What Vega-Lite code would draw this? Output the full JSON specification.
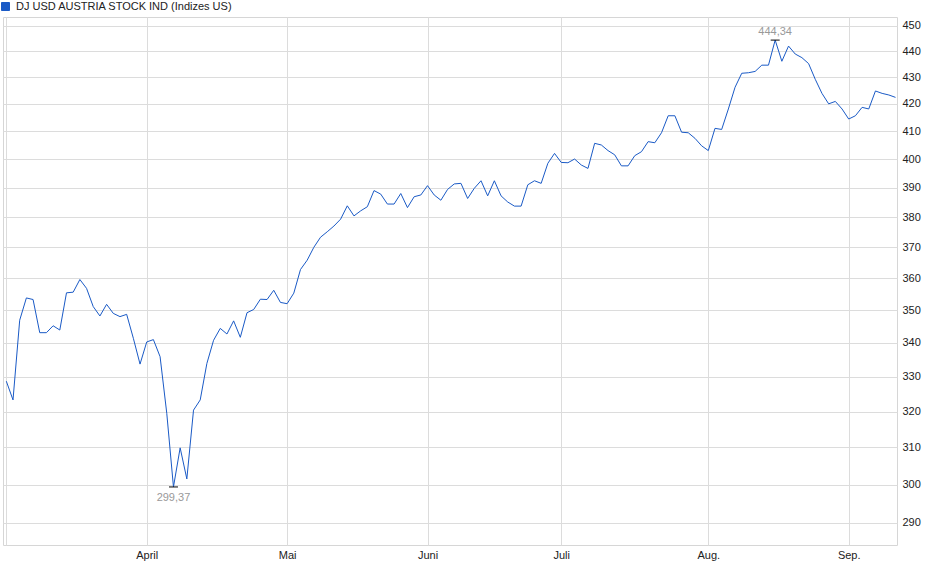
{
  "$schema": "https://vega.github.io/schema/vega-lite/v6.json",
  "autosize": {"type": "none"},
  "width": 894,
  "height": 528,
  "padding": {"left": 3, "top": 17, "right": 43, "bottom": 34},
  "background": "white",
  "config": {
    "font": "Liberation Sans",
    "view": {"stroke": "#d6d6d6", "strokeWidth": 1},
    "axis": {"gridColor": "#dcdcdc", "gridWidth": 1, "domain": false, "ticks": false, "title": null, "labelFont": "Liberation Sans", "labelFontSize": 11, "labelColor": "#222222"}
  },
  "datasets": {
    "prices": [
      {"date": "2025-03-03", "close": 328.7},
      {"date": "2025-03-04", "close": 323.3},
      {"date": "2025-03-05", "close": 346.9},
      {"date": "2025-03-06", "close": 353.8},
      {"date": "2025-03-07", "close": 353.3},
      {"date": "2025-03-10", "close": 343.1},
      {"date": "2025-03-11", "close": 343.1},
      {"date": "2025-03-12", "close": 345.2},
      {"date": "2025-03-13", "close": 343.9},
      {"date": "2025-03-14", "close": 355.4},
      {"date": "2025-03-17", "close": 355.6},
      {"date": "2025-03-18", "close": 359.6},
      {"date": "2025-03-19", "close": 356.8},
      {"date": "2025-03-20", "close": 351.1},
      {"date": "2025-03-21", "close": 348.2},
      {"date": "2025-03-24", "close": 351.8},
      {"date": "2025-03-25", "close": 349.0},
      {"date": "2025-03-26", "close": 348.0},
      {"date": "2025-03-27", "close": 348.7},
      {"date": "2025-03-28", "close": 341.4},
      {"date": "2025-03-31", "close": 333.7},
      {"date": "2025-04-01", "close": 340.3},
      {"date": "2025-04-02", "close": 341.0},
      {"date": "2025-04-03", "close": 335.9},
      {"date": "2025-04-04", "close": 319.5},
      {"date": "2025-04-07", "close": 299.37},
      {"date": "2025-04-08", "close": 309.9},
      {"date": "2025-04-09", "close": 301.5},
      {"date": "2025-04-10", "close": 320.4},
      {"date": "2025-04-11", "close": 323.3},
      {"date": "2025-04-14", "close": 333.9},
      {"date": "2025-04-15", "close": 340.8},
      {"date": "2025-04-16", "close": 344.4},
      {"date": "2025-04-17", "close": 342.7},
      {"date": "2025-04-21", "close": 346.7},
      {"date": "2025-04-22", "close": 341.7},
      {"date": "2025-04-23", "close": 349.2},
      {"date": "2025-04-24", "close": 350.2},
      {"date": "2025-04-25", "close": 353.4},
      {"date": "2025-04-28", "close": 353.3},
      {"date": "2025-04-29", "close": 356.2},
      {"date": "2025-04-30", "close": 352.4},
      {"date": "2025-05-01", "close": 352.0},
      {"date": "2025-05-02", "close": 355.3},
      {"date": "2025-05-05", "close": 362.8},
      {"date": "2025-05-06", "close": 365.8},
      {"date": "2025-05-07", "close": 370.0},
      {"date": "2025-05-08", "close": 373.3},
      {"date": "2025-05-09", "close": 375.1},
      {"date": "2025-05-12", "close": 377.0},
      {"date": "2025-05-13", "close": 379.3},
      {"date": "2025-05-14", "close": 383.8},
      {"date": "2025-05-15", "close": 380.4},
      {"date": "2025-05-16", "close": 382.1},
      {"date": "2025-05-19", "close": 383.5},
      {"date": "2025-05-20", "close": 389.0},
      {"date": "2025-05-21", "close": 387.8},
      {"date": "2025-05-22", "close": 384.4},
      {"date": "2025-05-23", "close": 384.4},
      {"date": "2025-05-27", "close": 388.0},
      {"date": "2025-05-28", "close": 383.2},
      {"date": "2025-05-29", "close": 386.9},
      {"date": "2025-05-30", "close": 387.5},
      {"date": "2025-06-02", "close": 390.7},
      {"date": "2025-06-03", "close": 387.5},
      {"date": "2025-06-04", "close": 385.7},
      {"date": "2025-06-05", "close": 389.4},
      {"date": "2025-06-06", "close": 391.3},
      {"date": "2025-06-09", "close": 391.5},
      {"date": "2025-06-10", "close": 386.3},
      {"date": "2025-06-11", "close": 389.8},
      {"date": "2025-06-12", "close": 392.4},
      {"date": "2025-06-13", "close": 387.2},
      {"date": "2025-06-16", "close": 392.4},
      {"date": "2025-06-17", "close": 387.2},
      {"date": "2025-06-18", "close": 385.1},
      {"date": "2025-06-20", "close": 383.7},
      {"date": "2025-06-23", "close": 383.7},
      {"date": "2025-06-24", "close": 391.0},
      {"date": "2025-06-25", "close": 392.4},
      {"date": "2025-06-26", "close": 391.5},
      {"date": "2025-06-27", "close": 398.5},
      {"date": "2025-06-30", "close": 402.0},
      {"date": "2025-07-01", "close": 398.8},
      {"date": "2025-07-02", "close": 398.7},
      {"date": "2025-07-03", "close": 400.0},
      {"date": "2025-07-07", "close": 397.9},
      {"date": "2025-07-08", "close": 396.7},
      {"date": "2025-07-09", "close": 405.6},
      {"date": "2025-07-10", "close": 405.0},
      {"date": "2025-07-11", "close": 403.0},
      {"date": "2025-07-14", "close": 401.5},
      {"date": "2025-07-15", "close": 397.6},
      {"date": "2025-07-16", "close": 397.6},
      {"date": "2025-07-17", "close": 401.2},
      {"date": "2025-07-18", "close": 402.6},
      {"date": "2025-07-21", "close": 406.2},
      {"date": "2025-07-22", "close": 405.8},
      {"date": "2025-07-23", "close": 409.4},
      {"date": "2025-07-24", "close": 415.6},
      {"date": "2025-07-25", "close": 415.6},
      {"date": "2025-07-28", "close": 409.6},
      {"date": "2025-07-29", "close": 409.4},
      {"date": "2025-07-30", "close": 407.4},
      {"date": "2025-07-31", "close": 404.7},
      {"date": "2025-08-01", "close": 403.0},
      {"date": "2025-08-04", "close": 411.0},
      {"date": "2025-08-05", "close": 410.6},
      {"date": "2025-08-06", "close": 418.1},
      {"date": "2025-08-07", "close": 426.2},
      {"date": "2025-08-08", "close": 431.5},
      {"date": "2025-08-11", "close": 431.7},
      {"date": "2025-08-12", "close": 432.2},
      {"date": "2025-08-13", "close": 434.6},
      {"date": "2025-08-14", "close": 434.6},
      {"date": "2025-08-15", "close": 444.34},
      {"date": "2025-08-18", "close": 436.1},
      {"date": "2025-08-19", "close": 442.0},
      {"date": "2025-08-20", "close": 438.9},
      {"date": "2025-08-21", "close": 437.5},
      {"date": "2025-08-22", "close": 435.2},
      {"date": "2025-08-25", "close": 429.2},
      {"date": "2025-08-26", "close": 423.9},
      {"date": "2025-08-27", "close": 420.0},
      {"date": "2025-08-28", "close": 420.9},
      {"date": "2025-08-29", "close": 418.1},
      {"date": "2025-09-02", "close": 414.4},
      {"date": "2025-09-03", "close": 415.6},
      {"date": "2025-09-04", "close": 418.7},
      {"date": "2025-09-05", "close": 418.1},
      {"date": "2025-09-08", "close": 424.8},
      {"date": "2025-09-09", "close": 423.9},
      {"date": "2025-09-10", "close": 423.3},
      {"date": "2025-09-11", "close": 422.4}
    ],
    "extremes": [
      {"date": "2025-04-07", "close": 299.37, "label": "299,37", "kind": "min"},
      {"date": "2025-08-15", "close": 444.34, "label": "444,34", "kind": "max"}
    ]
  },
  "encoding": {
    "x": {
      "field": "date",
      "type": "ordinal",
      "sort": "ascending",
      "scale": {"type": "point", "padding": 0.36, "align": 0.69},
      "axis": {
        "values": ["2025-03-03", "2025-04-01", "2025-05-01", "2025-06-02", "2025-07-01", "2025-08-01", "2025-09-02"],
        "labelExpr": "substring(datum.value,5,7)=='04'?'April':substring(datum.value,5,7)=='05'?'Mai':substring(datum.value,5,7)=='06'?'Juni':substring(datum.value,5,7)=='07'?'Juli':substring(datum.value,5,7)=='08'?'Aug.':substring(datum.value,5,7)=='09'?'Sep.':''",
        "labelAngle": 0,
        "labelPadding": 4,
        "grid": true,
        "labelOverlap": false
      }
    },
    "y": {
      "field": "close",
      "type": "quantitative",
      "scale": {"type": "log", "domain": [284.4, 453.5], "nice": false, "zero": false},
      "axis": {
        "orient": "right",
        "values": [290, 300, 310, 320, 330, 340, 350, 360, 370, 380, 390, 400, 410, 420, 430, 440, 450],
        "format": "d",
        "grid": true,
        "labelPadding": 5,
        "labelAlign": "left",
        "labelBaseline": "middle"
      }
    }
  },
  "layer": [
    {
      "data": {"name": "prices"},
      "mark": {"type": "line", "strokeWidth": 1, "interpolate": "linear"},
      "encoding": {
        "color": {
          "datum": "DJ USD AUSTRIA STOCK IND (Indizes US)",
          "type": "nominal",
          "scale": {"range": ["#1a5ac6"]},
          "legend": {
            "title": null,
            "orient": "none",
            "legendX": -3,
            "legendY": -16,
            "padding": 0,
            "symbolType": "square",
            "symbolSize": 64,
            "labelFont": "Liberation Sans",
            "labelFontSize": 11,
            "labelColor": "#222222",
            "labelOffset": 5,
            "labelLimit": 500,
            "encode": {"symbols": {"update": {"fill": {"value": "#1a5ac6"}, "stroke": {"value": "#1a2c5a"}, "strokeWidth": {"value": 1}, "opacity": {"value": 1}}}}
          }
        }
      }
    },
    {
      "data": {"name": "extremes"},
      "mark": {"type": "tick", "orient": "horizontal", "size": 9, "thickness": 1, "color": "#000000", "opacity": 1}
    },
    {
      "data": {"name": "extremes"},
      "transform": [{"filter": "datum.kind == 'min'"}],
      "mark": {"type": "text", "baseline": "top", "dy": 5, "fontSize": 11, "color": "#999999", "font": "Liberation Sans"},
      "encoding": {"text": {"field": "label"}}
    },
    {
      "data": {"name": "extremes"},
      "transform": [{"filter": "datum.kind == 'max'"}],
      "mark": {"type": "text", "baseline": "bottom", "dy": -3, "fontSize": 11, "color": "#999999", "font": "Liberation Sans"},
      "encoding": {"text": {"field": "label"}}
    }
  ]
}
